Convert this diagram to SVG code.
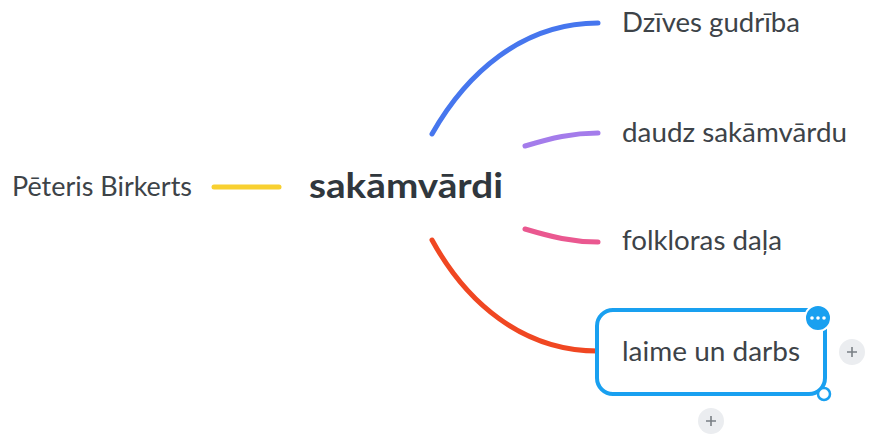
<svg xmlns="http://www.w3.org/2000/svg" width="869" height="436" viewBox="0 0 869 436">
<style>
.t{font-family:Lato,"Noto Sans",sans-serif;font-size:26px;fill:#3d4348}
.root{font-family:Lato,"Noto Sans",sans-serif;font-size:35px;font-weight:bold;fill:#30373d}
.c{fill:none;stroke-width:5;stroke-linecap:round}
.plus{fill:#ebedf0}
.pl{stroke:#7a7f85;stroke-width:1.6}
</style>
<rect width="869" height="436" fill="#fff"/>
<g id="connectors">
<path class="c" d="M214,187 L279,187" stroke="#f8d030"/>
<path class="c" d="M432,134 C466,74 522,23 598,23" stroke="#4676ee"/>
<path class="c" d="M525,146 C552,138 572,133 598,133" stroke="#a47ceb"/>
<path class="c" d="M525,229 C552,237 572,242 598,242" stroke="#ea5890"/>
<path class="c" d="M432,240 C466,302 522,351 598,351" stroke="#f04722"/>
</g>
<g id="n-left"><text class="t" x="12" y="196" textLength="180" lengthAdjust="spacingAndGlyphs">Pēteris Birkerts</text></g>
<g id="n-root"><text class="root" x="309" y="198" textLength="194" lengthAdjust="spacingAndGlyphs">sakāmvārdi</text></g>
<g id="n-1"><text class="t" x="622" y="32" textLength="178" lengthAdjust="spacingAndGlyphs">Dzīves gudrība</text></g>
<g id="n-2"><text class="t" x="622" y="142" textLength="225" lengthAdjust="spacingAndGlyphs">daudz sakāmvārdu</text></g>
<g id="n-3"><text class="t" x="622" y="250" textLength="160" lengthAdjust="spacingAndGlyphs">folkloras daļa</text></g>
<g id="n-4">
<rect x="597" y="310" width="228" height="84" rx="16" fill="#fff" stroke="#19a0f0" stroke-width="4"/>
<text class="t" x="622" y="361" textLength="178" lengthAdjust="spacingAndGlyphs">laime un darbs</text>
<circle cx="818" cy="318" r="13" fill="#19a0f0" stroke="#fff" stroke-width="2"/>
<circle cx="812" cy="318" r="1.8" fill="#fff"/>
<circle cx="818" cy="318" r="1.8" fill="#fff"/>
<circle cx="824" cy="318" r="1.8" fill="#fff"/>
<circle cx="824" cy="394" r="6" fill="#fff" stroke="#19a0f0" stroke-width="2.5"/>
<circle class="plus" cx="852" cy="352" r="13"/>
<path class="pl" d="M847,352 H857 M852,347 V357"/>
<circle class="plus" cx="711" cy="421" r="13"/>
<path class="pl" d="M706,421 H716 M711,416 V426"/>
</g>
</svg>
